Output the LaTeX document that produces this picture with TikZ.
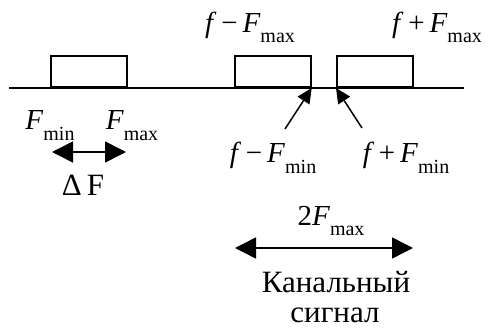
\documentclass[tikz,border=0pt]{standalone}
\usepackage{fontspec}
\setmainfont{Liberation Serif}
\usetikzlibrary{arrows.meta,positioning}
\newcommand{\lowsub}[1]{\raisebox{-10pt}{\fontsize{20}{20}\selectfont #1}}

\begin{document}
\begin{tikzpicture}[x=1pt, y=-1pt,
    band/.style={draw, line width=1.7pt, minimum width=76pt, minimum height=31pt, inner sep=0pt, anchor=south west},
    lbl/.style={anchor=base, inner sep=0pt, font=\fontsize{29}{31}\selectfont},
    txt/.style={anchor=base, inner sep=0pt, font=\fontsize{31}{33}\selectfont},
    pointer/.style={-{Triangle[length=15pt,width=14pt]}, line width=1.5pt},
    span/.style={{Triangle[length=21pt,width=21pt]}-{Triangle[length=21pt,width=21pt]}, line width=1.5pt}]
    \useasboundingbox (0,0) rectangle (488,329);

    % The axis
    \coordinate (axL) at (9,88);
    \coordinate (axR) at (464,88);
    \draw[line width=1.4pt] (axL) -- (axR);

    % The bands
    \node (base) [band] at (50,88) {};
    \node (low)  [band] at (234,88) {};
    \node (up)   [band] at (336,88) {};

    % Baseband labels
    \node (fmin) [lbl] at (50,130) {\textit{F}\lowsub{min}};
    \node (fmax) [lbl] at (132,130) {\textit{F}\lowsub{max}};
    \coordinate (dL) at (52,152);
    \coordinate (dR) at (126,152);
    \draw[span] (dL) -- (dR);
    \node (dF) [txt] at (83,195) {Δ\,F};

    % Channel labels
    \node (lmax) [lbl] at (250,33) {\textit{f}\,−\,\textit{F}\lowsub{max}};
    \node (umax) [lbl] at (437,33) {\textit{f}\,+\,\textit{F}\lowsub{max}};
    \node (lmin) [lbl] at (273,163) {\textit{f}\,−\,\textit{F}\lowsub{min}};
    \node (umin) [lbl] at (406,163) {\textit{f}\,+\,\textit{F}\lowsub{min}};
    \coordinate (p1) at (285,129);
    \coordinate (p2) at (362,128);
    \draw[pointer] (p1) -- (low.south east);
    \draw[pointer] (p2) -- (up.south west);

    % Channel width
    \node (two) [lbl] at (331,225) {2\textit{F}\lowsub{max}};
    \coordinate (cL) at (235,248);
    \coordinate (cR) at (413,248);
    \draw[span] (cL) -- (cR);
    \node (kan) [txt] at (336,292) {Канальный};
    \node (sig) [txt] at (335,322) {сигнал};
\end{tikzpicture}
\end{document}
